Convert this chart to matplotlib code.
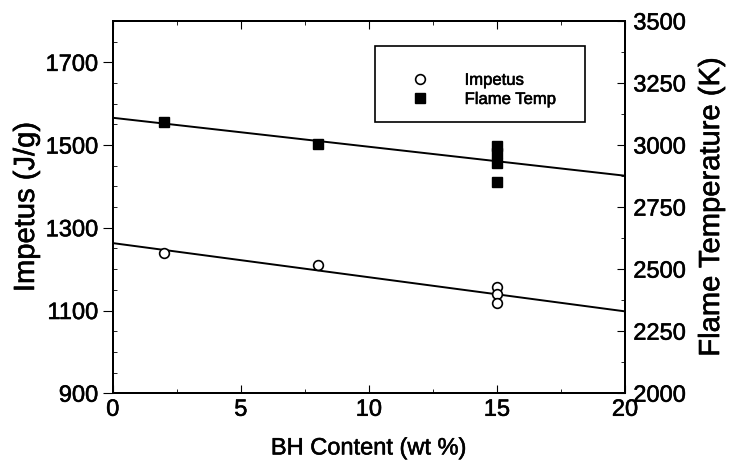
import matplotlib
matplotlib.use("Agg")
import matplotlib.pyplot as plt
import matplotlib.patheffects as pe
from matplotlib.patches import Rectangle
from matplotlib.ticker import MultipleLocator
import numpy as np

plt.rcParams['font.family'] = ['Liberation Sans', 'DejaVu Sans']

# BH content (wt %) and measured values
bh_impetus = [2, 8, 15, 15, 15]
impetus = [1240, 1209, 1156, 1139, 1117]

bh_flame = [2, 8, 15, 15, 15, 15]
flame_temp = [3093, 3005, 2997, 2969, 2928, 2851]

fig = plt.figure(figsize=(7.37, 4.67), dpi=100)
ax = fig.add_axes([0.153, 0.158, 0.695, 0.797])
ax2 = ax.twinx()

# linear fits drawn across the full range
xfit = np.array([0, 20])
p1 = np.polyfit(bh_impetus, impetus, 1)
p2 = np.polyfit(bh_flame, flame_temp, 1)
ax.plot(xfit, np.polyval(p1, xfit), color='black', lw=1.4)
ax2.plot(xfit, np.polyval(p2, xfit), color='black', lw=1.4)

h1, = ax.plot(bh_impetus, impetus, 'o', mfc='white', mec='black', ms=7, mew=1.2,
              label='Impetus')
h2, = ax2.plot(bh_flame, flame_temp, 's', color='black', ms=7, label='Flame Temp')

ax.set_xlim(0, 20)
ax.set_ylim(900, 1800)
ax2.set_ylim(2000, 3500)

ax.xaxis.set_major_locator(MultipleLocator(5))
ax.xaxis.set_minor_locator(MultipleLocator(2.5))
ax.set_yticks([900, 1100, 1300, 1500, 1700])
ax.yaxis.set_minor_locator(MultipleLocator(50))
ax2.yaxis.set_major_locator(MultipleLocator(250))
ax2.yaxis.set_minor_locator(MultipleLocator(125))

ax.tick_params(axis='x', which='both', direction='in', top=True, labelsize=17, pad=4)
ax.tick_params(axis='x', which='major', length=6)
ax.tick_params(axis='x', which='minor', length=3)
ax.tick_params(axis='y', which='major', direction='out', length=7, labelsize=17)
ax.tick_params(axis='y', which='minor', direction='in', length=3)
ax2.tick_params(axis='y', which='major', direction='in', length=6, labelsize=17, pad=6)
ax2.tick_params(axis='y', which='minor', direction='in', length=3)

for a in (ax, ax2):
    for s in a.spines.values():
        s.set_linewidth(1.4)

ax.set_xlabel('BH Content (wt %)', fontsize=17, labelpad=12)
ax.set_ylabel('Impetus (J/g)', fontsize=21, labelpad=4)
ax2.set_ylabel('Flame Temperature (K)', fontsize=21, labelpad=8)

# legend box
ax.add_patch(Rectangle((0.512, 0.728), 0.41, 0.205, transform=ax.transAxes,
                       fill=False, lw=1.2, ec='black', zorder=5))
leg = ax.legend(handles=[h1, h2], loc='center left', bbox_to_anchor=(0.56, 0.815),
                frameon=False, fontsize=12, handlelength=0.6, handletextpad=2.4,
                labelspacing=0.25)

# heavier strokes on the text
heavy = [pe.withStroke(linewidth=0.4, foreground='black')]
texts = (ax.get_xticklabels() + ax.get_yticklabels() + ax2.get_yticklabels()
         + [ax.xaxis.label, ax.yaxis.label, ax2.yaxis.label] + leg.get_texts())
for t in texts:
    t.set_path_effects(heavy)

fig.savefig('out.png', dpi=100)
